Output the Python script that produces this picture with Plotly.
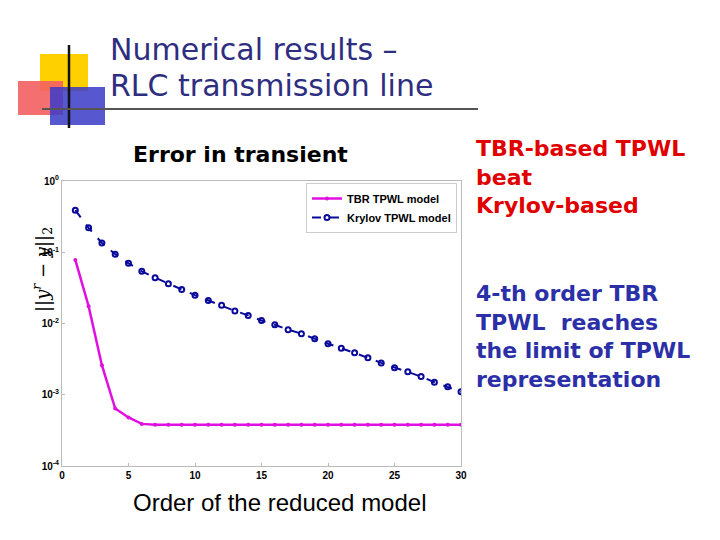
import plotly.graph_objects as go

order = list(range(1, 31))
tbr_err = [0.078, 0.0175, 0.0026, 0.00064, 0.00048, 0.00039] + [0.00038] * 24
krylov_err = [0.39, 0.22, 0.135, 0.094, 0.070, 0.054, 0.044, 0.036, 0.030, 0.025,
              0.021, 0.018, 0.015, 0.013, 0.011, 0.0096, 0.0082, 0.0072, 0.0061, 0.0052,
              0.0045, 0.0039, 0.0033, 0.0028, 0.0024, 0.0021, 0.0018, 0.0015, 0.0013, 0.0011]
y_tickvals = [1e-4, 1e-3, 1e-2, 1e-1, 1]
y_ticktext = ['<b>10<sup>-4</sup></b>', '<b>10<sup>-3</sup></b>', '<b>10<sup>-2</sup></b>',
              '<b>10<sup>-1</sup></b>', '<b>10<sup>0</sup></b>']
x_tickvals = [0, 5, 10, 15, 20, 25, 30]

W, H = 720, 540
def px(x): return x / W
def py(y): return 1 - y / H

fig = go.Figure()
fig.add_trace(go.Scatter(x=order, y=tbr_err, mode='lines+markers', name='<b>TBR TPWL model</b>',
                         line=dict(color='#e010e0', width=2.5), marker=dict(size=4, color='#e010e0')))
fig.add_trace(go.Scatter(x=order, y=krylov_err, mode='lines+markers', name='<b>Krylov TPWL model</b>',
                         line=dict(color='#0a0a9a', width=2, dash='dash'),
                         marker=dict(size=5, symbol='circle-open', color='#0a0a9a', line=dict(width=2))))

tickfont = dict(family='Liberation Sans', size=10, color='black')
fig.update_layout(
    width=W, height=H, margin=dict(l=0, r=0, t=0, b=0, autoexpand=False),
    paper_bgcolor='white', plot_bgcolor='white', showlegend=True,
    xaxis=dict(domain=[px(54), px(453)], range=[0, 30], tickvals=x_tickvals,
               ticktext=['<b>%d</b>' % v for v in x_tickvals],
               showgrid=False, zeroline=False, showline=True, linecolor='#bbbbbb', mirror=True,
               ticks='inside', ticklen=3, tickcolor='#bbbbbb', tickfont=tickfont),
    yaxis=dict(domain=[py(458), py(173)], type='log', range=[-4, 0], tickvals=y_tickvals,
               ticktext=y_ticktext, showgrid=False, zeroline=False, showline=True,
               linecolor='#bbbbbb', mirror=True, ticks='inside', ticklen=3, tickcolor='#bbbbbb',
               tickfont=tickfont),
    legend=dict(x=px(449), y=py(175), xanchor='right', yanchor='top', bgcolor='white',
                bordercolor='#cccccc', borderwidth=1,
                font=dict(family='Liberation Sans', size=11, color='black'), tracegroupgap=0),
)

# slide logo
shapes = [
    dict(type='rect', x0=px(32), x1=px(80), y0=py(46), y1=py(83), fillcolor='#ffd000', line_width=0),
    dict(type='rect', x0=px(10), x1=px(55), y0=py(73), y1=py(107), fillcolor='#f36060', line_width=0, opacity=0.9),
    dict(type='rect', x0=px(42), x1=px(97), y0=py(79), y1=py(117), fillcolor='#3a3ac8', line_width=0, opacity=0.85),
    dict(type='line', x0=px(61), x1=px(61), y0=py(37), y1=py(120), line=dict(color='#111111', width=2.5)),
    dict(type='line', x0=px(34), x1=px(470), y0=py(101), y1=py(101), line=dict(color='#555555', width=2)),
]
for s in shapes:
    s.update(xref='paper', yref='paper')
fig.update_layout(shapes=shapes)

def note(x, y, text, font, **kw):
    fig.add_annotation(x=px(x), y=py(y), xref='paper', yref='paper', text=text,
                       showarrow=False, font=font, **kw)

title_font = dict(family='DejaVu Sans', size=30, color='#2e2e80')
note(100, 42, 'Numerical results –', title_font, xanchor='left', yanchor='middle')
note(100, 78, 'RLC transmission line', title_font, xanchor='left', yanchor='middle')
note(232, 146, '<b>Error in transient</b>', dict(family='DejaVu Sans', size=22, color='black'),
     xanchor='center', yanchor='middle')
note(272, 494, 'Order of the reduced model', dict(family='Liberation Sans', size=24, color='black'),
     xanchor='center', yanchor='middle')
note(34, 262, '<i>||y<sup>r</sup> − y||</i><sub>2</sub>', dict(family='DejaVu Serif', size=18, color='black'),
     textangle=-90, xanchor='center', yanchor='middle')
note(466, 126, '<b>TBR-based TPWL<br>beat<br>Krylov-based</b>',
     dict(family='DejaVu Sans', size=22, color='#e00000'), xanchor='left', yanchor='top', align='left')
note(466, 271, '<b>4-th order TBR<br>TPWL  reaches<br>the limit of TPWL<br>representation</b>',
     dict(family='DejaVu Sans', size=22, color='#2b2fa8'), xanchor='left', yanchor='top', align='left')

fig.write_html("out.html")
